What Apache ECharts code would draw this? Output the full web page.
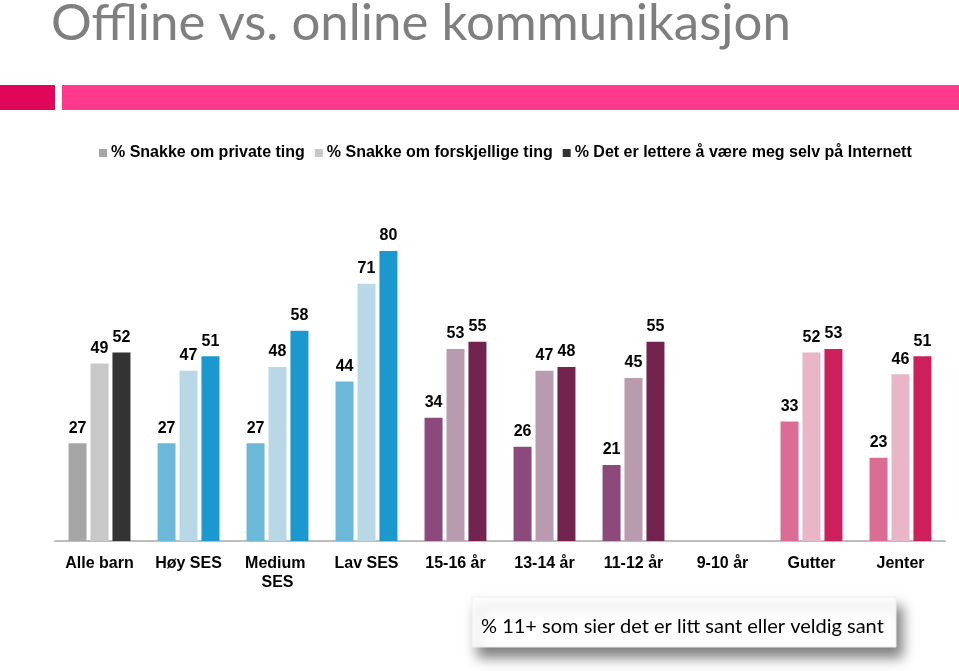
<!DOCTYPE html>
<html>
<head>
<meta charset="utf-8">
<script src="https://cdn.jsdelivr.net/npm/echarts@6/dist/echarts.min.js"></script>
<style>
html,body{margin:0;padding:0;background:#fff;}
#chart{width:959px;height:671px;}
</style>
</head>
<body>
<div id="chart"></div>
<script>
var titleText = 'Offline vs. online kommunikasjon';
var noteText = '% 11+ som sier det er litt sant eller veldig sant';
var categories = ['Alle barn', 'Høy SES', 'Medium SES', 'Lav SES', '15-16 år', '13-14 år', '11-12 år', '9-10 år', 'Gutter', 'Jenter'];
var seriesNames = ['% Snakke om private ting', '% Snakke om forskjellige ting', '% Det er lettere å være meg selv på Internett'];
var privateTing = [27, 27, 27, 44, 34, 26, 21, null, 33, 23];
var forskjelligeTing = [49, 47, 48, 71, 53, 47, 45, null, 52, 46];
var lettereInternett = [52, 51, 58, 80, 55, 48, 55, null, 53, 51];

// colour per category group, per series
var gray = ['#a6a6a6', '#c8c8c8', '#333333'];
var blue = ['#6cb8d9', '#b8d8e6', '#1b99cf'];
var purple = ['#8c4a7c', '#b89bae', '#72244f'];
var pink = ['#db6d94', '#e9b6c8', '#cd1f5c'];
var categoryPalette = [gray, blue, blue, blue, purple, purple, purple, purple, pink, pink];

function makeData(values, s) {
  return values.map(function (v, i) {
    return { value: v == null ? '-' : v, itemStyle: { color: categoryPalette[i][s] } };
  });
}

var allValues = [privateTing, forskjelligeTing, lettereInternett];
var series = allValues.map(function (vals, s) {
  return {
    name: seriesNames[s],
    type: 'bar',
    barWidth: 18,
    barGap: '22%',
    itemStyle: { color: gray[s] },
    label: {
      show: true,
      position: 'top',
      distance: 7,
      color: '#000',
      fontFamily: 'Liberation Sans',
      fontWeight: 'bold',
      fontSize: 16
    },
    data: makeData(vals, s)
  };
});

var chart = echarts.init(document.getElementById('chart'), null, { renderer: 'canvas' });
chart.setOption({
  animation: false,
  backgroundColor: '#fff',
  legend: {
    top: 140,
    left: 94,
    icon: 'rect',
    itemWidth: 8,
    itemHeight: 8,
    itemGap: 10,
    textStyle: { color: '#000', fontFamily: 'Liberation Sans', fontWeight: 'bold', fontSize: 16, padding: [0, 0, 0, -1] },
    data: seriesNames
  },
  grid: { left: 55, right: 14, top: 178.5, bottom: 130 },
  xAxis: {
    type: 'category',
    data: categories,
    axisLine: { show: true, lineStyle: { color: '#bdbdbd', width: 2 } },
    axisTick: { show: false },
    axisLabel: {
      margin: 13,
      color: '#000',
      fontFamily: 'Liberation Sans',
      fontWeight: 'bold',
      fontSize: 16,
      lineHeight: 19,
      width: 86,
      overflow: 'break',
      interval: 0
    }
  },
  yAxis: { type: 'value', min: 0, max: 100, show: false, splitLine: { show: false } },
  graphic: [
    { type: 'text', left: 51, top: -2, style: { text: titleText, fill: '#7f7f7f', font: '51px Lato' } },
    { type: 'rect', shape: { x: 0, y: 85, width: 55, height: 25 }, style: { fill: '#e0065a' } },
    { type: 'rect', shape: { x: 62, y: 85, width: 897, height: 25 }, style: { fill: '#ff3a8c' } },
    { type: 'rect', shape: { x: 472, y: 597, width: 424, height: 50 }, style: { fill: '#fff', stroke: '#eeeeee', lineWidth: 1, shadowBlur: 12, shadowOffsetX: 6, shadowOffsetY: 10, shadowColor: 'rgba(0,0,0,0.5)' } },
    { type: 'text', left: 481, top: 617, style: { text: noteText, fill: '#000', font: '20px Lato' } }
  ],
  series: series
});
</script>
</body>
</html>
